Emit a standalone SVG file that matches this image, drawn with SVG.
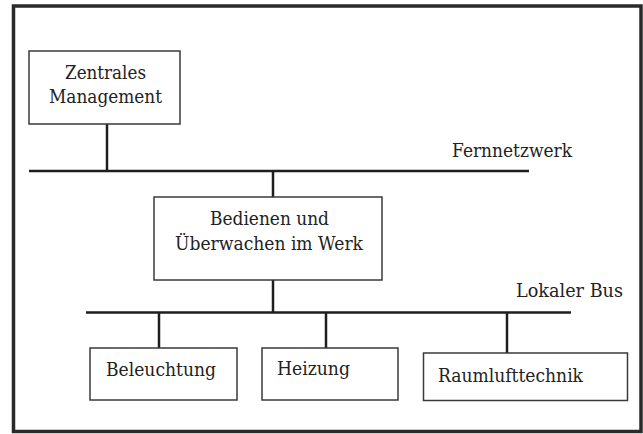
<svg xmlns="http://www.w3.org/2000/svg" width="643" height="434" viewBox="0 0 643 434">
<style>
.box{fill:#fff;stroke:#3a3a3a;stroke-width:1.5}
.ln{stroke:#1e1e1e;stroke-width:2.5;fill:none}
.t{font-family:'DejaVu Serif',serif;font-size:18px;fill:#222}
</style>
<rect x="0" y="0" width="643" height="434" fill="#fff"/>
<rect x="13.5" y="6" width="627.5" height="425.5" fill="none" stroke="#2a2a2a" stroke-width="3.5"/>
<g id="connectors">
<line class="ln" x1="107" y1="124" x2="107" y2="171"/>
<line class="ln" x1="29" y1="171" x2="529" y2="171"/>
<line class="ln" x1="273" y1="171" x2="273" y2="197"/>
<line class="ln" x1="273" y1="280" x2="273" y2="312"/>
<line class="ln" x1="86" y1="312.5" x2="571" y2="312.5"/>
<line class="ln" x1="159" y1="312" x2="159" y2="348"/>
<line class="ln" x1="326" y1="312" x2="326" y2="348"/>
<line class="ln" x1="507" y1="312" x2="507" y2="353"/>
</g>
<g id="labels">
<text class="t" x="452" y="157" textLength="120" lengthAdjust="spacingAndGlyphs">Fernnetzwerk</text>
<text class="t" x="516" y="297" textLength="107" lengthAdjust="spacingAndGlyphs">Lokaler Bus</text>
</g>
<g id="zentrales">
<rect class="box" x="29" y="51" width="151" height="73"/>
<text class="t" x="105.5" y="79" text-anchor="middle" textLength="81" lengthAdjust="spacingAndGlyphs">Zentrales</text>
<text class="t" x="105.5" y="103" text-anchor="middle" textLength="113" lengthAdjust="spacingAndGlyphs">Management</text>
</g>
<g id="bedienen">
<rect class="box" x="154" y="197" width="228" height="83"/>
<text class="t" x="269.5" y="225" text-anchor="middle" textLength="119" lengthAdjust="spacingAndGlyphs">Bedienen und</text>
<text class="t" x="269" y="249.5" text-anchor="middle" textLength="188" lengthAdjust="spacingAndGlyphs">Überwachen im Werk</text>
</g>
<g id="beleuchtung">
<rect class="box" x="90" y="348" width="147" height="52"/>
<text class="t" x="106" y="376" textLength="110" lengthAdjust="spacingAndGlyphs">Beleuchtung</text>
</g>
<g id="heizung">
<rect class="box" x="262" y="348" width="136" height="52"/>
<text class="t" x="277" y="375" textLength="73" lengthAdjust="spacingAndGlyphs">Heizung</text>
</g>
<g id="raumlufttechnik">
<rect class="box" x="423.5" y="353" width="204" height="47.5"/>
<text class="t" x="438" y="381.5" textLength="145" lengthAdjust="spacingAndGlyphs">Raumlufttechnik</text>
</g>
</svg>
